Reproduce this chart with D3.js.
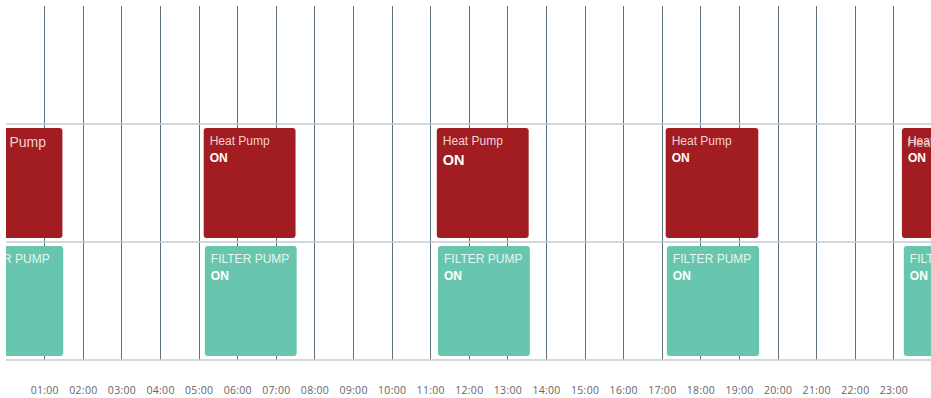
<!DOCTYPE html>
<html><head><meta charset="utf-8">
<script src="https://cdn.jsdelivr.net/npm/d3@7"></script>
<style>
html,body{margin:0;padding:0;background:#fff;}
svg{display:block;}
</style></head>
<body>
<svg id="chart" width="931" height="398"></svg>
<script>
// ---- data (hours of day) ----
const lanes = ["", "Heat Pump", "FILTER PUMP"];
const heatStart = [-0.9, 5.13, 11.17, 17.1, 23.22];
const heatEnd   = [1.47, 7.51, 13.55, 19.5, 25.6];
const filterStart = [-1.05, 5.16, 11.2, 17.13, 23.27];
const filterEnd   = [1.49, 7.54, 13.58, 19.52, 25.6];
const tickHours = [1,2,3,4,5,6,7,8,9,10,11,12,13,14,15,16,17,18,19,20,21,22,23];
const stateLabel = "ON";

(function(){
const svg = d3.select("#chart");
const pLeft = 5.7, pRight = 932, pTop = 6, pBottom = 360;
const x = d3.scaleLinear().domain([0, 24]).range([pLeft, pRight]);
const y = d3.scaleBand().domain(d3.range(lanes.length)).range([pTop, pBottom]);

svg.append("defs").append("clipPath").attr("id","plot")
  .append("rect").attr("x", 6).attr("y", 0).attr("width", 931).attr("height", pBottom+2);

// vertical gridlines
svg.append("g").selectAll("line").data(tickHours).join("line")
  .attr("x1", d => Math.round(x(d)) + 0.5).attr("x2", d => Math.round(x(d)) + 0.5)
  .attr("y1", pTop).attr("y2", pBottom)
  .attr("stroke", "#5f717c").attr("stroke-width", 1);

// horizontal lines
svg.append("g").selectAll("line").data(d3.range(1, lanes.length + 1)).join("line")
  .attr("x1", 6).attr("x2", 931)
  .attr("y1", d => y.step() * d + pTop).attr("y2", d => y.step() * d + pTop)
  .attr("stroke", "#c4cbcf").attr("stroke-width", 1.6);

// axis
const axis = d3.axisBottom(x).tickValues(tickHours)
  .tickFormat(d => d3.format("02d")(d) + ":00").tickSize(0).tickPadding(0);
const ag = svg.append("g").attr("transform", `translate(0,387)`).call(axis);
ag.select(".domain").remove();
ag.selectAll("text").attr("font-family", "'Open Sans', sans-serif")
  .attr("font-size", 10.5).attr("fill", "#666666").attr("letter-spacing", 0.3);

const series = [
  {lane: 1, starts: heatStart, ends: heatEnd, color: "#a11d22", name: lanes[1], txt: "#f0d2d2"},
  {lane: 2, starts: filterStart, ends: filterEnd, color: "#68c6ae", name: lanes[2], txt: "#e6f6f1"}
];

const g = svg.append("g").attr("clip-path", "url(#plot)");
series.forEach(s => {
  const items = s.starts.map((st, i) => ({i, st, en: s.ends[i]}));
  const pad = 4;
  const grp = g.append("g").selectAll("g").data(items).join("g");
  grp.append("rect")
    .attr("x", d => x(d.st)).attr("width", d => x(d.en) - x(d.st))
    .attr("y", y(s.lane) + pad).attr("height", y.bandwidth() - 2 * pad)
    .attr("rx", 3).attr("fill", s.color);
  grp.append("text")
    .attr("x", d => x(d.st) + (s.lane === 1 && d.i === 0 ? 5 : 6))
    .attr("y", d => y(s.lane) + (s.lane === 1 && d.i === 0 ? 23 : 21))
    .attr("font-family", "'Liberation Sans', Arial, sans-serif")
    .attr("font-size", d => (s.lane === 1 && d.i === 0) ? 14 : 12)
    .attr("fill", s.txt).text(s.name);
  grp.filter(d => !(s.lane === 1 && d.i === 0)).append("text")
    .attr("x", d => x(d.st) + 6)
    .attr("y", d => y(s.lane) + (s.lane === 1 && d.i === 2 ? 41 : 38))
    .attr("font-family", "'Liberation Sans', Arial, sans-serif")
    .attr("font-weight", "bold")
    .attr("font-size", d => (s.lane === 1 && d.i === 2) ? 14.5 : 12)
    .attr("fill", "#ffffff").text(stateLabel);
  if (s.lane === 1) {
    const last = items[items.length - 1];
    g.append("text").attr("x", x(last.st) + 5).attr("y", y(s.lane) + 23)
      .attr("font-family", "'Liberation Sans', Arial, sans-serif")
      .attr("font-size", 13).attr("fill", s.txt).attr("opacity", 0.8).text(s.name);
  }
});
})();
</script>
</body></html>
